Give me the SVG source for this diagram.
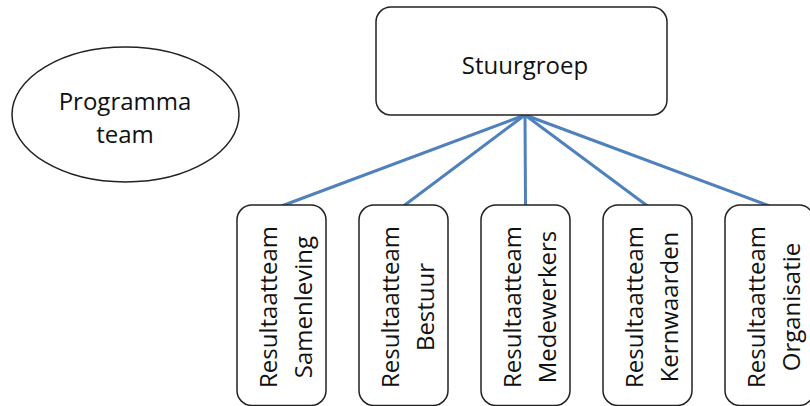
<svg xmlns="http://www.w3.org/2000/svg" width="810" height="406" viewBox="0 0 810 406">
<style>
.box{fill:#fff;stroke:#222;stroke-width:1.5}
.lbl{font-family:"Open Sans","Liberation Sans",sans-serif;font-size:24px;fill:#111;text-anchor:middle}
.conn{stroke:#4F81BD;stroke-width:3;fill:none}
</style>
<rect width="810" height="406" fill="#fff"/>
<g id="connectors">
<line class="conn" x1="525" y1="115" x2="281.5" y2="206"/>
<line class="conn" x1="525" y1="115" x2="403.5" y2="206"/>
<line class="conn" x1="525" y1="115" x2="525.5" y2="206"/>
<line class="conn" x1="525" y1="115" x2="647.5" y2="206"/>
<line class="conn" x1="525" y1="115" x2="769.5" y2="206"/>
</g>
<g id="programma-team">
<ellipse class="box" cx="125.5" cy="114.5" rx="113.5" ry="67.5"/>
<text class="lbl" x="125" y="110">Programma</text>
<text class="lbl" x="125" y="143">team</text>
</g>
<g id="stuurgroep">
<rect class="box" x="376" y="7" width="291" height="108" rx="15"/>
<text class="lbl" x="525" y="74">Stuurgroep</text>
</g>
<g id="rt-samenleving">
<rect class="box" x="237" y="205" width="89" height="200.5" rx="15"/>
<g transform="translate(281.5,307) rotate(-90)"><text class="lbl" x="0" y="-4.5">Resultaatteam</text><text class="lbl" x="0" y="30.5">Samenleving</text></g>
</g>
<g id="rt-bestuur">
<rect class="box" x="359" y="205" width="89" height="200.5" rx="15"/>
<g transform="translate(403.5,307) rotate(-90)"><text class="lbl" x="0" y="-4.5">Resultaatteam</text><text class="lbl" x="0" y="30.5">Bestuur</text></g>
</g>
<g id="rt-medewerkers">
<rect class="box" x="481" y="205" width="89" height="200.5" rx="15"/>
<g transform="translate(525.5,307) rotate(-90)"><text class="lbl" x="0" y="-4.5">Resultaatteam</text><text class="lbl" x="0" y="30.5">Medewerkers</text></g>
</g>
<g id="rt-kernwaarden">
<rect class="box" x="603" y="205" width="89" height="200.5" rx="15"/>
<g transform="translate(647.5,307) rotate(-90)"><text class="lbl" x="0" y="-4.5">Resultaatteam</text><text class="lbl" x="0" y="30.5">Kernwaarden</text></g>
</g>
<g id="rt-organisatie">
<rect class="box" x="725" y="205" width="89" height="200.5" rx="15"/>
<g transform="translate(769.5,307) rotate(-90)"><text class="lbl" x="0" y="-4.5">Resultaatteam</text><text class="lbl" x="0" y="30.5">Organisatie</text></g>
</g>
</svg>
